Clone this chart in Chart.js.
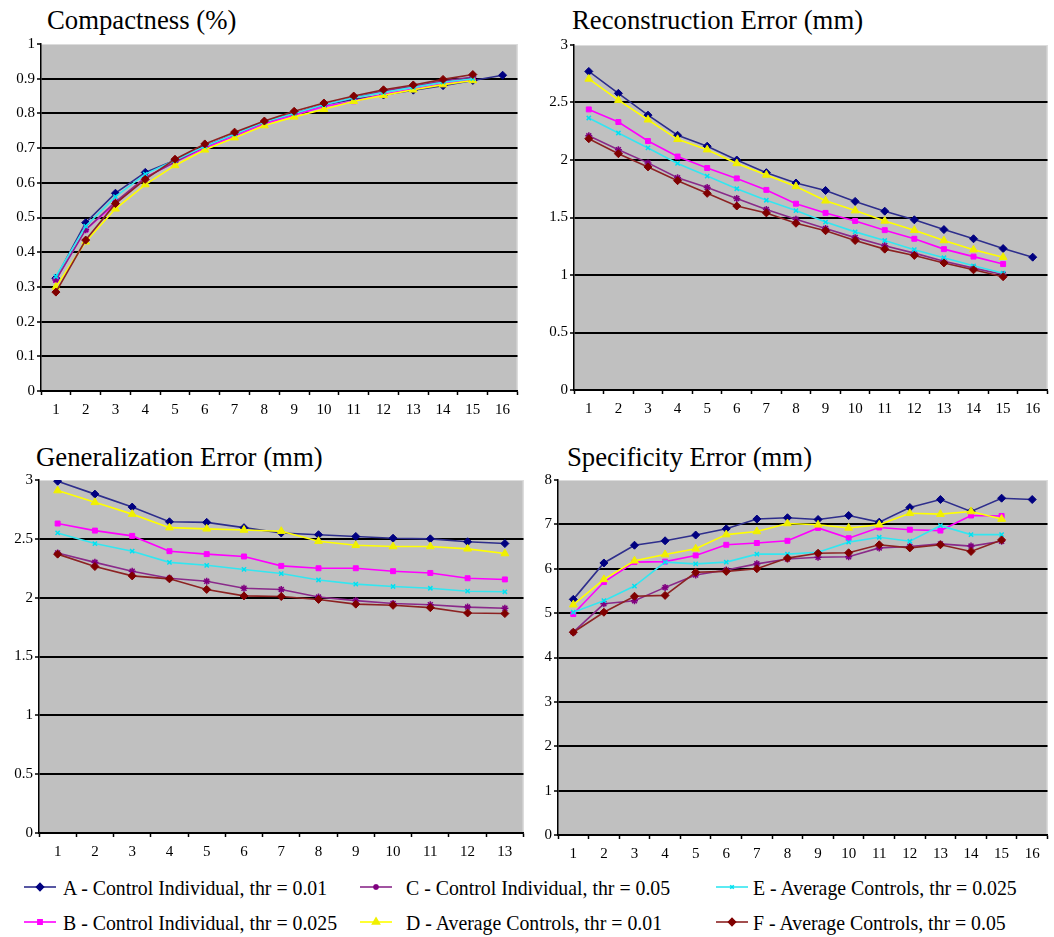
<!DOCTYPE html>
<html>
<head>
<meta charset="utf-8">
<script src="https://cdn.jsdelivr.net/npm/chart.js@4.4.1/dist/chart.umd.min.js"></script>
<style>
  body { margin: 0; background: #fff; width: 1054px; height: 937px; overflow: hidden; position: relative;
         font-family: "Liberation Serif", "Times New Roman", serif; color: #000; }
  .title { position: absolute; font-size: 28px; line-height: 28px; white-space: nowrap;
           transform: scaleX(0.955); transform-origin: left center; }
  canvas.panel { position: absolute; }
  .legItem { position: absolute; }
  .legText { position: absolute; font-size: 22px; line-height: 22px; white-space: nowrap;
             transform: scaleX(0.9); transform-origin: left center; }
</style>
</head>
<body>
<div class="title" style="left:47px;top:6px">Compactness (%)</div>
<div class="title" style="left:572px;top:6px">Reconstruction Error (mm)</div>
<div class="title" style="left:36px;top:443px">Generalization Error (mm)</div>
<div class="title" style="left:567px;top:443px">Specificity Error (mm)</div>

<canvas id="compCanvas" class="panel" width="522" height="388" style="left:1px;top:33px"></canvas>
<canvas id="recCanvas" class="panel" width="519" height="386" style="left:534px;top:34px"></canvas>
<canvas id="genCanvas" class="panel" width="528" height="394" style="left:1px;top:469px"></canvas>
<canvas id="specCanvas" class="panel" width="535" height="396" style="left:518px;top:469px"></canvas>

<div id="legend"></div>

<script>
const labels16 = ['1','2','3','4','5','6','7','8','9','10','11','12','13','14','15','16'];
const labels13 = ['1','2','3','4','5','6','7','8','9','10','11','12','13'];

const seriesNames = [
  'A - Control Individual, thr = 0.01',
  'B - Control Individual, thr = 0.025',
  'C - Control Individual, thr = 0.05',
  'D - Average Controls, thr = 0.01',
  'E - Average Controls, thr = 0.025',
  'F - Average Controls, thr = 0.05'
];

// Compactness (%)
const compA = [0.325,0.485,0.57,0.63,0.665,0.705,0.74,0.775,0.80,0.825,0.84,0.853,0.867,0.88,0.895,0.91];
const compB = [0.32,0.465,0.54,0.615,0.66,0.70,0.735,0.77,0.795,0.82,0.835,0.855,0.87,0.885,0.90];
const compC = [0.32,0.465,0.545,0.615,0.66,0.705,0.74,0.775,0.80,0.825,0.845,0.865,0.878,0.893,0.905];
const compD = [0.30,0.43,0.525,0.595,0.65,0.695,0.73,0.765,0.79,0.812,0.835,0.852,0.868,0.883,0.895];
const compE = [0.33,0.475,0.56,0.625,0.665,0.705,0.74,0.775,0.80,0.825,0.845,0.86,0.875,0.89,0.90];
const compF = [0.285,0.435,0.54,0.61,0.668,0.712,0.746,0.778,0.806,0.83,0.85,0.868,0.882,0.898,0.912];

// Reconstruction Error (mm)
const recA = [2.77,2.58,2.39,2.215,2.12,2.0,1.89,1.80,1.735,1.64,1.555,1.48,1.395,1.315,1.23,1.155];
const recB = [2.44,2.33,2.165,2.03,1.93,1.84,1.74,1.62,1.54,1.47,1.39,1.315,1.225,1.16,1.095];
const recC = [2.21,2.09,1.975,1.845,1.76,1.665,1.57,1.485,1.405,1.325,1.255,1.19,1.12,1.06,1.005];
const recD = [2.705,2.52,2.35,2.18,2.09,1.97,1.87,1.77,1.645,1.56,1.47,1.39,1.30,1.22,1.155];
const recE = [2.365,2.235,2.105,1.97,1.86,1.75,1.65,1.56,1.46,1.375,1.30,1.22,1.15,1.08,1.015];
const recF = [2.185,2.055,1.94,1.82,1.71,1.60,1.54,1.45,1.385,1.30,1.225,1.17,1.105,1.045,0.985];

// Generalization Error (mm)
const genA = [2.99,2.88,2.77,2.645,2.64,2.595,2.55,2.535,2.52,2.505,2.50,2.475,2.46];
const genB = [2.63,2.57,2.525,2.395,2.37,2.35,2.27,2.25,2.25,2.225,2.21,2.165,2.155];
const genC = [2.38,2.30,2.225,2.165,2.14,2.08,2.07,2.005,1.975,1.95,1.94,1.92,1.91];
const genD = [2.91,2.81,2.71,2.595,2.585,2.575,2.565,2.48,2.445,2.435,2.435,2.415,2.375];
const genE = [2.55,2.46,2.395,2.30,2.275,2.24,2.205,2.15,2.115,2.095,2.08,2.055,2.05];
const genF = [2.37,2.265,2.185,2.16,2.07,2.015,2.01,1.985,1.945,1.935,1.915,1.87,1.865];

// Specificity Error (mm)
const specA = [5.31,6.13,6.53,6.63,6.76,6.90,7.12,7.15,7.11,7.20,7.05,7.38,7.56,7.29,7.59,7.56];
const specB = [4.98,5.70,6.15,6.16,6.30,6.54,6.58,6.63,6.92,6.69,6.93,6.88,6.86,7.20,7.19];
const specC = [4.57,5.21,5.28,5.58,5.86,5.97,6.11,6.22,6.26,6.27,6.47,6.50,6.56,6.51,6.62];
const specD = [5.19,5.76,6.18,6.32,6.45,6.77,6.84,7.02,6.99,6.92,6.99,7.25,7.23,7.29,7.12];
const specE = [5.02,5.28,5.61,6.15,6.11,6.15,6.33,6.33,6.37,6.60,6.71,6.62,6.97,6.77,6.77];
const specF = [4.57,5.02,5.38,5.40,5.92,5.94,6.00,6.24,6.35,6.36,6.54,6.47,6.54,6.39,6.65];

// series look (Excel default palette)
const lineColors   = ['#2e2e8c', '#ff00ff', '#8a2a8a', '#ffff00', '#33e6f0', '#8c2222'];
const markerColors = ['#000080', '#ff00ff', '#800080', '#f0f000', '#00e0f0', '#800000'];
const markerShapes = ['rectRot', 'rect', 'star', 'triangle', 'crossRot', 'rectRot'];
const markerSizes  = [4, 3.5, 3.5, 4.5, 3, 4];

const FONT = '"Liberation Serif", "Times New Roman", serif';

const plotBg = {
  id: 'plotBg',
  beforeDraw(chart) {
    const a = chart.chartArea, c = chart.ctx;
    c.save();
    c.fillStyle = '#c0c0c0';
    c.fillRect(a.left, a.top, a.right - a.left, a.bottom - a.top);
    c.strokeStyle = '#dcdcdc';
    c.lineWidth = 1;
    c.beginPath();
    c.moveTo(a.left, a.top + 0.5);
    c.lineTo(a.right - 0.5, a.top + 0.5);
    c.lineTo(a.right - 0.5, a.bottom);
    c.stroke();
    c.restore();
  }
};

function makeDatasets(series) {
  return series.map((data, i) => ({
    label: seriesNames[i],
    data: data,
    borderColor: lineColors[i],
    backgroundColor: markerColors[i],
    borderWidth: 1.6,
    pointStyle: markerShapes[i],
    pointRadius: markerSizes[i],
    pointBorderColor: markerColors[i],
    pointBackgroundColor: markerColors[i],
    pointBorderWidth: markerShapes[i] === 'star' || markerShapes[i] === 'crossRot' ? 1.5 : 1,
    tension: 0,
    order: 6 - i
  }));
}

function makeChart(id, labels, series, max, step, yWidth) {
  const canvas = document.getElementById(id);
  return new Chart(canvas, {
    type: 'line',
    data: { labels: labels, datasets: makeDatasets(series) },
    plugins: [plotBg],
    options: {
      responsive: false,
      animation: false,
      events: [],
      layout: { padding: { top: 10, left: 0, right: 0, bottom: 0 } },
      plugins: { legend: { display: false }, tooltip: { enabled: false }, title: { display: false } },
      scales: {
        x: {
          offset: true,
          grid: { offset: true, drawOnChartArea: false, drawTicks: true, tickLength: 4, tickColor: '#000', tickWidth: 1.5 },
          border: { display: true, color: '#000', width: 1.5 },
          ticks: { color: '#000', font: { family: FONT, size: 15 }, padding: 6, maxRotation: 0, autoSkip: false },
          afterFit: s => { s.height = 30; }
        },
        y: {
          min: 0, max: max,
          grid: {
            color: ctx => (ctx.tick && ctx.tick.value >= max) ? 'rgba(0,0,0,0)' : '#000',
            lineWidth: 2, tickColor: '#000', tickWidth: 1.5, tickLength: 4, drawTicks: true
          },
          border: { display: true, color: '#000', width: 1.5 },
          ticks: {
            stepSize: step, color: '#000', padding: 2,
            font: { family: FONT, size: 15 },
            callback: v => String(+v.toFixed(2))
          },
          afterFit: s => { s.width = yWidth; }
        }
      }
    }
  });
}

makeChart('compCanvas', labels16, [compA, compB, compC, compD, compE, compF], 1, 0.1, 40);
makeChart('recCanvas', labels16, [recA, recB, recC, recD, recE, recF], 3, 0.5, 40);
makeChart('genCanvas', labels13, [genA, genB, genC, genD, genE, genF], 3, 0.5, 38);
makeChart('specCanvas', labels16, [specA, specB, specC, specD, specE, specF], 8, 1, 40);

// legend: 3 columns x 2 rows (A,B | C,D | E,F)
const legCols = [{ line: 24, text: 63 }, { line: 360, text: 406 }, { line: 716, text: 753 }];
const legRows = [895, 930];
const legend = document.getElementById('legend');
seriesNames.forEach((name, i) => {
  const col = legCols[Math.floor(i / 2)];
  const base = legRows[i % 2];
  const cv = document.createElement('canvas');
  cv.width = 32; cv.height = 14;
  cv.className = 'legItem';
  cv.style.left = col.line + 'px';
  cv.style.top = (base - 8 - 7) + 'px';
  legend.appendChild(cv);
  const c = cv.getContext('2d');
  c.strokeStyle = lineColors[i];
  c.lineWidth = 1.6;
  c.beginPath(); c.moveTo(0, 7); c.lineTo(32, 7); c.stroke();
  c.fillStyle = markerColors[i];
  c.strokeStyle = markerColors[i];
  if (Chart.helpers && Chart.helpers.drawPoint) {
    Chart.helpers.drawPoint(c, { pointStyle: markerShapes[i], radius: markerSizes[i] - 0.5, rotation: 0, borderWidth: 1 }, 16, 7);
  }
  const t = document.createElement('div');
  t.className = 'legText';
  t.textContent = name;
  t.style.left = col.text + 'px';
  t.style.top = (base - 18.4) + 'px';
  legend.appendChild(t);
});
</script>
</body>
</html>
